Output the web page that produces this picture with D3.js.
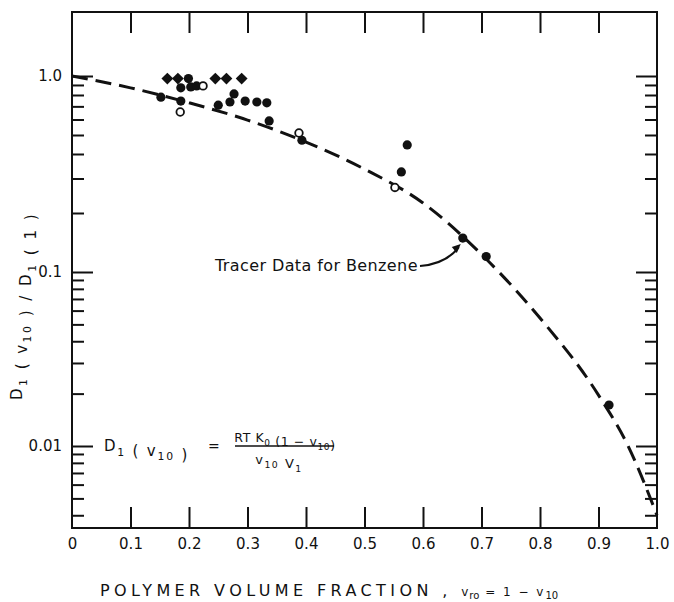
<!DOCTYPE html>
<html>
<head>
<meta charset="utf-8">
<script src="https://cdn.jsdelivr.net/npm/d3@7"></script>
<style>
  body { margin: 0; background: #fff; }
  text { font-family: "DejaVu Sans", sans-serif; fill: #111; }
</style>
</head>
<body>
<script>
// x ticks along the polymer volume fraction axis
var xTicks = [0, 0.1, 0.2, 0.3, 0.4, 0.5, 0.6, 0.7, 0.8, 0.9, 1.0];
var xTickLabels = ["0", "0.1", "0.2", "0.3", "0.4", "0.5", "0.6", "0.7", "0.8", "0.9", "1.0"];
var yMajor = [1, 0.1, 0.01];
var yTickLabels = ["1.0", "0.1", "0.01"];

// dashed theory curve
var curveX = [0, 0.1, 0.2, 0.3, 0.4, 0.5, 0.6, 0.7, 0.8, 0.9, 0.95, 1.0];
var curveY = [1.0, 0.87, 0.73, 0.596, 0.46, 0.335, 0.225, 0.123, 0.0544, 0.0196, 0.0101, 0.0040];

// filled diamonds
var diamondX = [0.163, 0.181, 0.245, 0.264, 0.29];
var diamondY = [0.97, 0.97, 0.97, 0.97, 0.97];

// filled circles
var filledX = [0.152, 0.186, 0.199, 0.203, 0.213, 0.186, 0.250, 0.270, 0.277, 0.296, 0.316, 0.333, 0.337, 0.393, 0.573, 0.563, 0.668, 0.708, 0.918];
var filledY = [0.78, 0.87, 0.97, 0.88, 0.89, 0.745, 0.71, 0.737, 0.81, 0.745, 0.737, 0.73, 0.59, 0.47, 0.445, 0.324, 0.149, 0.12, 0.0172];

// open circles
var openX = [0.224, 0.185, 0.388, 0.552];
var openY = [0.89, 0.655, 0.512, 0.27];

var W = 674, H = 602;
var plotL = 72, plotR = 657, plotT = 12, plotB = 528;

var svg = d3.select("body").append("svg")
    .attr("width", W)
    .attr("height", H);

var x = d3.scaleLinear().domain([0, 1]).range([plotL, plotR]);
// the printed decades are not quite equal, so the log scale is piecewise
var y = d3.scaleLog()
    .domain([0.00338, 0.01, 0.1, 1, 2.12])
    .range([plotB, 446, 272, 76, plotT]);

var minor = y.ticks().filter(function(d) { return d <= 1 && yMajor.indexOf(d) < 0; });
var innerX = xTicks.slice(1, -1);

function clean(g) {
  g.select(".domain").remove();
  g.selectAll(".tick line").attr("stroke", "#111").attr("stroke-width", 2);
  return g;
}

// left side ticks (pointing in)
svg.append("g").attr("transform", "translate(" + plotL + ",0)")
    .call(d3.axisRight(y).tickValues(minor).tickSize(12).tickFormat(""))
    .call(clean);
svg.append("g").attr("transform", "translate(" + plotL + ",0)")
    .call(d3.axisRight(y).tickValues(yMajor).tickSize(21).tickFormat(""))
    .call(clean);
// right side ticks
svg.append("g").attr("transform", "translate(" + plotR + ",0)")
    .call(d3.axisLeft(y).tickValues(minor).tickSize(12).tickFormat(""))
    .call(clean);
svg.append("g").attr("transform", "translate(" + plotR + ",0)")
    .call(d3.axisLeft(y).tickValues(yMajor).tickSize(21).tickFormat(""))
    .call(clean);
// bottom and top ticks
svg.append("g").attr("transform", "translate(0," + plotB + ")")
    .call(d3.axisTop(x).tickValues(innerX).tickSize(21).tickFormat(""))
    .call(clean);
svg.append("g").attr("transform", "translate(0," + plotT + ")")
    .call(d3.axisBottom(x).tickValues(innerX).tickSize(21).tickFormat(""))
    .call(clean);

// tick labels
svg.append("g").attr("transform", "translate(0," + plotB + ")")
    .call(d3.axisBottom(x).tickValues(xTicks).tickSize(0).tickPadding(10)
      .tickFormat(function(d, i) { return xTickLabels[i]; }))
    .call(clean)
    .selectAll("text").style("font-size", "15px").style("font-family", "DejaVu Sans").attr("fill", "#111");
svg.append("g").attr("transform", "translate(" + plotL + ",0)")
    .call(d3.axisLeft(y).tickValues(yMajor).tickSize(0).tickPadding(10)
      .tickFormat(function(d, i) { return yTickLabels[i]; }))
    .call(clean)
    .selectAll("text").style("font-size", "15px").style("font-family", "DejaVu Sans").attr("fill", "#111");

// frame
svg.append("rect")
    .attr("x", plotL).attr("y", plotT)
    .attr("width", plotR - plotL).attr("height", plotB - plotT)
    .attr("fill", "none").attr("stroke", "#111").attr("stroke-width", 2);

// dashed curve
var curvePts = curveX.map(function(d, i) { return [d, curveY[i]]; });
svg.append("path")
    .datum(curvePts)
    .attr("fill", "none")
    .attr("stroke", "#111")
    .attr("stroke-width", 3)
    .attr("stroke-dasharray", "16,8")
    .attr("d", d3.line()
      .x(function(d) { return x(d[0]); })
      .y(function(d) { return y(d[1]); })
      .curve(d3.curveMonotoneX));

// markers
svg.append("g").selectAll("path")
    .data(diamondX.map(function(d, i) { return [d, diamondY[i]]; }))
  .enter().append("path")
    .attr("d", d3.symbol(d3.symbolSquare, 70))
    .attr("fill", "#111")
    .attr("transform", function(d) {
      return "translate(" + x(d[0]) + "," + y(d[1]) + ")rotate(45)";
    });

svg.append("g").selectAll("circle")
    .data(filledX.map(function(d, i) { return [d, filledY[i]]; }))
  .enter().append("circle")
    .attr("cx", function(d) { return x(d[0]); })
    .attr("cy", function(d) { return y(d[1]); })
    .attr("r", 4.6)
    .attr("fill", "#111");

svg.append("g").selectAll("circle")
    .data(openX.map(function(d, i) { return [d, openY[i]]; }))
  .enter().append("circle")
    .attr("cx", function(d) { return x(d[0]); })
    .attr("cy", function(d) { return y(d[1]); })
    .attr("r", 3.8)
    .attr("fill", "#fff")
    .attr("stroke", "#111")
    .attr("stroke-width", 1.8);

// text with subscripts
function rich(g, parts, size) {
  parts.forEach(function(p) {
    if (p[1]) {
      g.append("tspan").attr("dy", size * 0.3).style("font-size", (size * 0.72) + "px").text(p[0]);
      g.append("tspan").attr("dy", -size * 0.3).style("font-size", size + "px").text("");
    } else {
      g.append("tspan").style("font-size", size + "px").text(p[0]);
    }
  });
}

// annotation
svg.append("text")
    .attr("x", 215).attr("y", 271)
    .style("font-size", "16px")
    .style("letter-spacing", "0.4px")
    .text("Tracer Data for Benzene");

var tipX = x(0.668) - 2, tipY = y(0.149) + 6;
svg.append("path")
    .attr("d", "M420,266 Q446,264 " + (tipX - 2) + "," + (tipY + 3))
    .attr("fill", "none").attr("stroke", "#111").attr("stroke-width", 2.2);
svg.append("path")
    .attr("d", "M" + tipX + "," + tipY + " l-9,3 l5,6 z")
    .attr("fill", "#111");

// equation
var eqY = y(0.01) + 5;
var eq1 = svg.append("text").attr("x", 104).attr("y", eqY).style("letter-spacing", "1.8px");
rich(eq1, [["D"], ["1", true], [" ( v"], ["10", true], [" )"]], 15);
svg.append("text").attr("x", 208).attr("y", eqY).style("font-size", "14px").text("=");
var num = svg.append("text").attr("x", 285).attr("y", eqY - 9).attr("text-anchor", "middle").style("letter-spacing", "0.6px");
rich(num, [["RT K"], ["0", true], [" (1 \u2212 v"], ["10", true], [")"]], 12.5);
svg.append("line")
    .attr("x1", 235).attr("x2", 334)
    .attr("y1", eqY - 5).attr("y2", eqY - 5)
    .attr("stroke", "#111").attr("stroke-width", 1.6);
var den = svg.append("text").attr("x", 279).attr("y", eqY + 13).attr("text-anchor", "middle").style("letter-spacing", "1.5px");
rich(den, [["v"], ["10", true], [" V"], ["1", true]], 13);

// axis titles
var xt = svg.append("text")
    .attr("x", 100).attr("y", 596)
    .style("letter-spacing", "4.4px");
rich(xt, [["POLYMER VOLUME FRACTION ,  "]], 16);
xt.append("tspan").style("font-size", "12px").style("letter-spacing", "1px").text("v");
xt.append("tspan").attr("dy", 3).style("font-size", "10px").style("letter-spacing", "0px").text("ro");
xt.append("tspan").attr("dy", -3).style("font-size", "12px").style("letter-spacing", "2px").text(" = 1 \u2212 v");
xt.append("tspan").attr("dy", 3).style("font-size", "10px").style("letter-spacing", "0px").text("10");

var yt = svg.append("text")
    .attr("transform", "translate(22,306)rotate(-90)")
    .attr("text-anchor", "middle")
    .style("letter-spacing", "2.5px");
rich(yt, [["D"], ["1", true], [" ( v"], ["10", true], [" ) / D"], ["1", true], [" ( 1 )"]], 15);
</script>
</body>
</html>
